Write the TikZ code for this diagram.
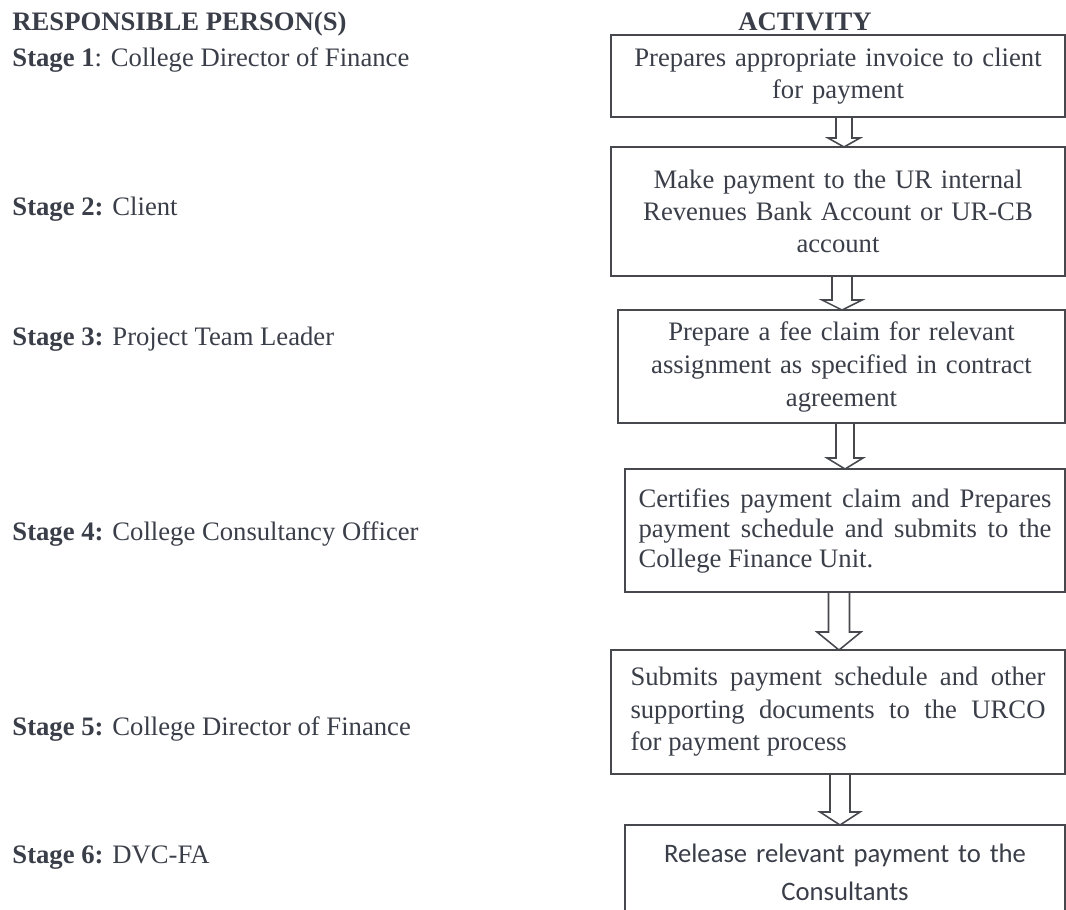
\documentclass[tikz,border=0pt]{standalone}
\usepackage{fontspec}
\setmainfont{Liberation Serif}
\newfontfamily\calibrilike{Carlito}
\usetikzlibrary{calc}

\definecolor{ink}{RGB}{58,62,72}
\definecolor{rule}{RGB}{70,72,78}

% hollow block arrow from the bottom of one box to the top of the next:
% #1 from node, #2 to node, #3 coordinate giving the x position,
% #4 half shaft width, #5 half head width, #6 head height
\newcommand\blockarrow[6]{%
  \draw[flowline] ($(#1.south -| #3)+(-#4,0)$) -- ($(#2.north -| #3)+(-#4,-#6)$)
    -- ($(#2.north -| #3)+(-#5,-#6)$) -- (#2.north -| #3)
    -- ($(#2.north -| #3)+(#5,-#6)$) -- ($(#2.north -| #3)+(#4,-#6)$)
    -- ($(#1.south -| #3)+(#4,0)$);}

\begin{document}
\begin{tikzpicture}[x=0.45pt,y=-0.45pt,
  every node/.style={text=ink},
  stagetext/.style={anchor=base west, inner sep=0pt, font=\fontsize{12}{14.4}\selectfont},
  colhead/.style={anchor=base, inner sep=0pt, font=\fontsize{12}{14.4}\selectfont\bfseries},
  activity/.style={draw=rule, line width=0.9pt, fill=white, outer sep=0pt,
    inner ysep=0pt, align=center, font=\fontsize{12}{14.4}\selectfont},
  flowline/.style={draw=rule, line width=0.7pt, line join=miter}
]
\useasboundingbox (0,0) rectangle (1066,909);
\clip (0,0) rectangle (1066,909);

% column headings
\node[colhead, anchor=base west] (hleft) at (12,30) {RESPONSIBLE PERSON(S)};
\node[colhead] (hright) at (805,30) {ACTIVITY};

% responsible persons
\node[stagetext] (s1) at (12,66)  {\textbf{Stage 1}: College Director of Finance};
\node[stagetext] (s2) at (12,215) {\textbf{Stage 2:} Client};
\node[stagetext] (s3) at (12,345) {\textbf{Stage 3:} Project Team Leader};
\node[stagetext] (s4) at (12,540) {\textbf{Stage 4:} College Consultancy Officer};
\node[stagetext] (s5) at (12,735) {\textbf{Stage 5:} College Director of Finance};
\node[stagetext] (s6) at (12,863) {\textbf{Stage 6:} DVC-FA};

% activities
\node[activity, minimum width=204.3pt, minimum height=36.9pt, text width=193pt]
  (b1) at (838,76) {Prepares appropriate invoice to client\\for payment};
\node[activity, minimum width=204.3pt, minimum height=58.05pt, text width=193pt]
  (b2) at (838,211.5) {Make payment to the UR internal\\Revenues Bank Account or UR-CB\\account};
\node[activity, minimum width=201.15pt, minimum height=50.85pt, text width=190pt,
  font=\fontsize{12}{14.85}\selectfont]
  (b3) at (841.5,366.5) {Prepare a fee claim for relevant\\assignment as specified in contract\\agreement};
\node[activity, minimum width=198pt, minimum height=55.35pt, text width=185.85pt,
  inner xsep=6.075pt, align=justify, font=\fontsize{12}{13.5}\selectfont]
  (b4) at (845,530.5) {Certifies payment claim and Prepares\linebreak
  payment schedule and submits to the\linebreak College Finance Unit.};
\node[activity, minimum width=204.3pt, minimum height=55.8pt, text width=186.75pt,
  inner xsep=8.775pt, align=justify, font=\fontsize{12}{14.6}\selectfont]
  (b5) at (838,712) {Submits payment schedule and other\linebreak
  supporting documents to the URCO\linebreak for payment process};
\node[activity, minimum width=198pt, minimum height=42.75pt, text width=185pt,
  font=\calibrilike\fontsize{12}{17.1}\selectfont]
  (b6) at (845,872.5) {Release relevant payment to the\\Consultants};

% arrow positions
\coordinate (a1) at (844,0);
\coordinate (a2) at (842,0);
\coordinate (a3) at (845,0);
\coordinate (a4) at (839,0);
\coordinate (a5) at (840,0);

\blockarrow{b1}{b2}{a1}{8}{16}{9}
\blockarrow{b2}{b3}{a2}{10}{20}{10}
\blockarrow{b3}{b4}{a3}{9}{18}{11}
\blockarrow{b4}{b5}{a4}{10.5}{22}{18}
\blockarrow{b5}{b6}{a5}{10}{20}{13}
\end{tikzpicture}
\end{document}
